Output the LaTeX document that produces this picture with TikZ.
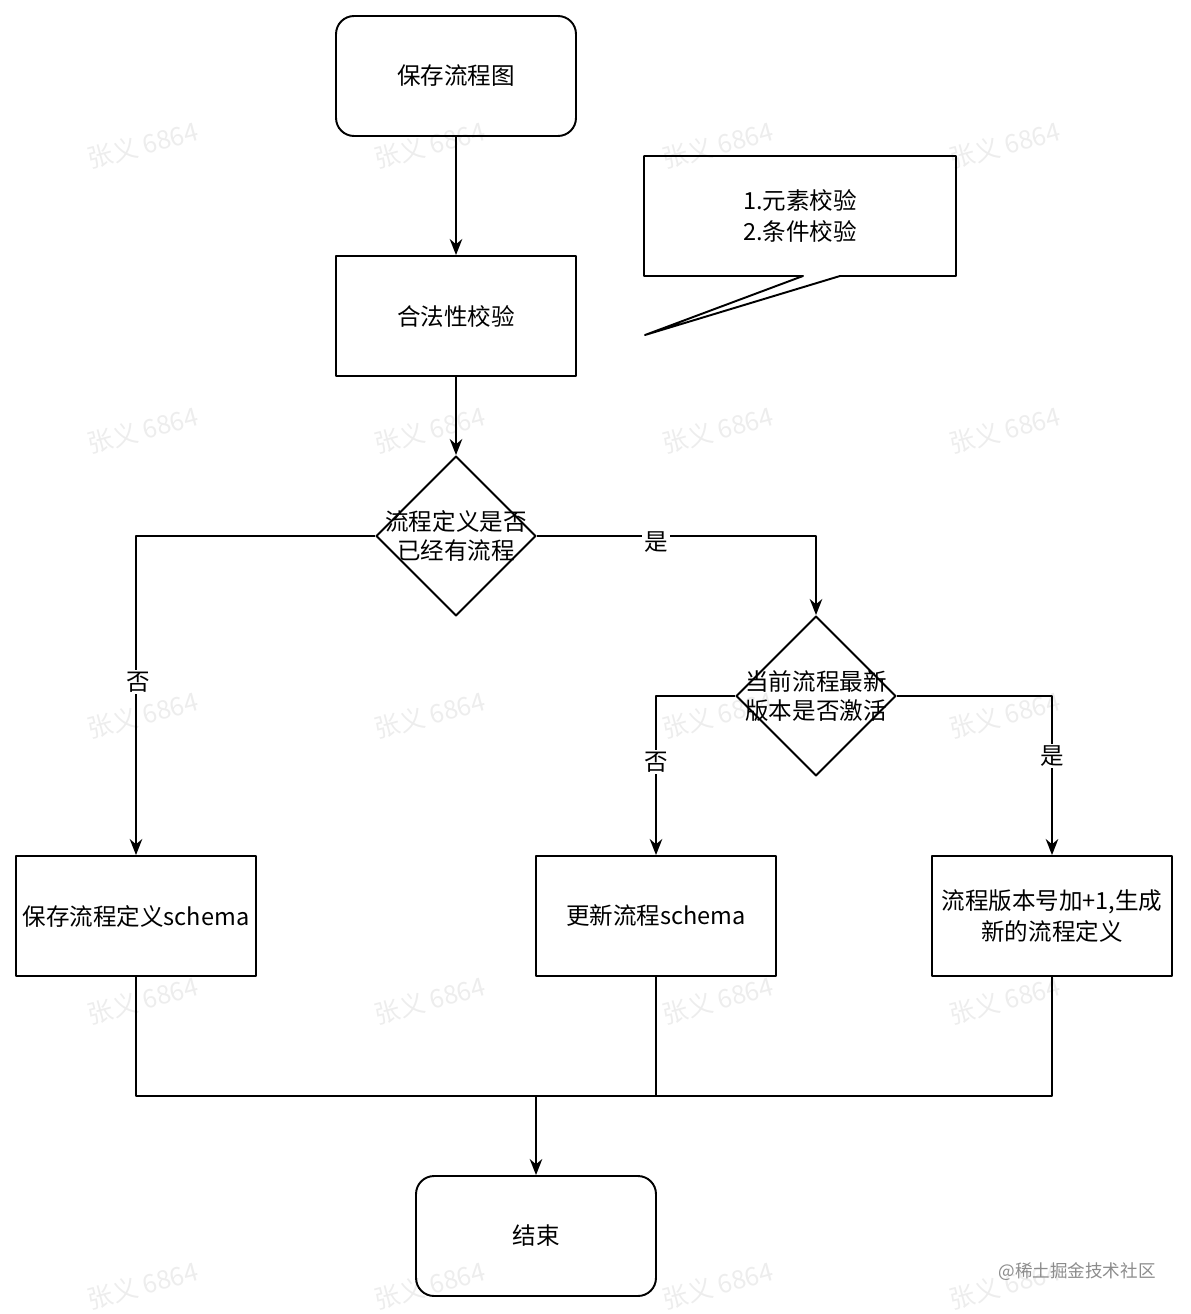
\documentclass[tikz,border=0pt]{standalone}
\usepackage{fontspec}
\setmainfont{Noto Sans CJK SC}
\usetikzlibrary{shapes.geometric,arrows.meta}

\begin{document}
\begin{tikzpicture}[x=0.02cm,y=-0.02cm,>={Stealth[length=3.2mm,width=2.5mm]}, font=\fontsize{13.4}{17}\selectfont, line join=round, line width=1.1pt,
	proc/.style={draw,minimum width=4.8cm,minimum height=2.4cm,align=center,inner sep=0pt},
	term/.style={proc,rounded corners=0.36cm},
	cond/.style={draw,diamond,minimum width=3.2cm,minimum height=3.2cm,inner sep=0pt},
	lbl/.style={fill=white,inner sep=1pt},
	wm/.style={text=black!7,rotate=15,font=\fontsize{14.5}{15}\selectfont}]
	\useasboundingbox (0,0) rectangle (1190,1314);
	\foreach \wx in {143,430,718,1005} \foreach \wy in {145,430,715,1000,1285}
		\node[wm] (wm-\wx-\wy) at (\wx,\wy) {张义 6864};
	\node[term] (start) at (456,76) {保存流程图};
	\node[proc] (check) at (456,316) {合法性校验};
	\node[cond] (d1) at (456,536) {};
	\node[align=center] (d1t) at (d1) {流程定义是否\\已经有流程};
	\node[cond] (d2) at (816,696) {};
	\node[align=center] (d2t) at (d2) {当前流程最新\\版本是否激活};
	\node[proc] (left) at (136,916) {保存流程定义schema};
	\node[proc] (mid) at (656,916) {更新流程schema};
	\node[proc,font=\fontsize{13.4}{17.5}\selectfont] (right) at (1052,916) {流程版本号加+1,生成\\新的流程定义};
	\node[term] (stop) at (536,1236) {结束};
	\draw (644,156) -- (956,156) -- (956,276) -- (840,276) -- (645,335) -- (803,276) -- (644,276) -- cycle;
	\node[align=center,font=\fontsize{13.4}{17.5}\selectfont] (note) at (800,216) {1.元素校验\\2.条件校验};
	\draw[->] (start) -- (check);
	\draw[->] (check) -- (d1);
	\draw[->] (d1.west) -| (left);
	\draw[->] (d1.east) -| (d2);
	\draw[->] (d2.west) -| (mid);
	\draw[->] (d2.east) -| (right);
	\node[lbl] (no1) at (138,682) {否};
	\node[lbl] (yes1) at (656,542) {是};
	\node[lbl] (no2) at (656,762) {否};
	\node[lbl] (yes2) at (1052,756) {是};
	\coordinate (j) at (536,1096);
	\draw (left.south) |- (right.south |- j) -- (right.south);
	\draw (mid.south) -- (mid.south |- j);
	\draw[->] (j) -- (stop);
	\node[text=black!45,font=\fontsize{10}{12}\selectfont] (site) at (1077,1272) {@稀土掘金技术社区};
\end{tikzpicture}
\end{document}
